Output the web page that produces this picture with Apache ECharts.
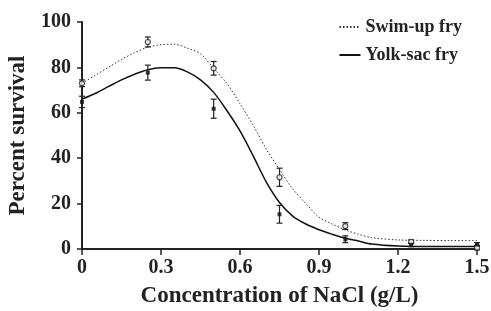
<!DOCTYPE html>
<html>
<head>
<meta charset="utf-8">
<script src="https://cdn.jsdelivr.net/npm/echarts@6/dist/echarts.min.js"></script>
<style>html,body{margin:0;padding:0;background:#fff;}#c{width:491px;height:311px;}</style>
</head>
<body>
<div id="c"></div>
<script>
// Measured points (NaCl g/L, % survival, error)
var concentrations = [0, 0.25, 0.5, 0.75, 1.0, 1.25, 1.5];
var swimUpMeans = [73, 91.2, 79.6, 31.6, 10.1, 3.2, 0.6];
var swimUpErr = [1.5, 2.2, 3, 4, 1.5, 0.8, 1];
var yolkSacMeans = [64.8, 77.7, 61.8, 15.3, 4.3, 1.8, 2.0];
var yolkSacErr = [2.5, 3.3, 4.2, 3.9, 1.5, 0.8, 0.8];

// Fitted curves
var curveX = [0, 0.05, 0.1, 0.15, 0.2, 0.25, 0.3, 0.35, 0.4, 0.45, 0.5, 0.55, 0.6, 0.65, 0.7, 0.75, 0.8, 0.85, 0.9, 0.95, 1.0, 1.05, 1.1, 1.2, 1.3, 1.4, 1.5];
var swimUpCurve = [73, 76.5, 80, 83.5, 86.5, 88.9, 90, 90.2, 88.5, 86, 79.5, 73, 64, 54.5, 44, 35, 26.5, 20, 14, 11, 8.4, 6.5, 5, 4, 3.8, 3.7, 3.7];
var yolkSacCurve = [66, 68.5, 71.5, 74.5, 77, 79, 79.8, 79.8, 78, 74.5, 69, 61, 52, 41, 29.5, 20.5, 14.5, 11, 8.5, 6.5, 4.7, 3.5, 2.2, 1.3, 1.1, 1.1, 1.1];

var xTickLabels = ['0', '0.3', '0.6', '0.9', '1.2', '1.5'];
var yTicks = [0, 20, 40, 60, 80, 100];

function pairs(xs, ys) { return xs.map(function (x, i) { return [x, ys[i]]; }); }
function errData(xs, ys, es) { return xs.map(function (x, i) { return [x, ys[i] - es[i], ys[i] + es[i]]; }); }

function errorBarRender(params, api) {
  var x = api.value(0);
  var lo = api.coord([x, api.value(1)]);
  var hi = api.coord([x, api.value(2)]);
  var w = 3;
  var st = { stroke: '#222', lineWidth: 1.2 };
  return {
    type: 'group',
    children: [
      { type: 'line', shape: { x1: lo[0], y1: lo[1], x2: hi[0], y2: hi[1] }, style: st },
      { type: 'line', shape: { x1: lo[0] - w, y1: lo[1], x2: lo[0] + w, y2: lo[1] }, style: st },
      { type: 'line', shape: { x1: hi[0] - w, y1: hi[1], x2: hi[0] + w, y2: hi[1] }, style: st }
    ]
  };
}

var font = '"Liberation Serif", "Times New Roman", serif';
var chart = echarts.init(document.getElementById('c'), null, { renderer: 'canvas' });
chart.setOption({
  animation: false,
  backgroundColor: '#fff',
  grid: { left: 82, right: 14, top: 22, bottom: 62, outerBoundsMode: 'none', containLabel: false },
  legend: {
    orient: 'vertical',
    right: 24,
    top: 13,
    itemWidth: 21,
    itemHeight: 10,
    itemGap: 10,
    itemStyle: { opacity: 0 },
    data: ['Swim-up fry', 'Yolk-sac fry'],
    textStyle: { fontFamily: font, fontWeight: 'bold', fontSize: 18, color: '#222' }
  },
  xAxis: {
    type: 'value', min: 0, max: 1.5, interval: 0.3,
    name: 'Concentration of NaCl (g/L)', nameLocation: 'middle', nameGap: 36,
    nameTextStyle: { fontFamily: font, fontWeight: 'bold', fontSize: 23, color: '#222' },
    axisLine: { lineStyle: { color: '#222', width: 2 } },
    axisTick: { length: 6, lineStyle: { color: '#222', width: 1.5 } },
    splitLine: { show: false },
    axisLabel: {
      fontFamily: font, fontWeight: 'bold', fontSize: 20, color: '#222', margin: 9,
      formatter: function (v) { return xTickLabels[Math.round(v / 0.3)]; }
    }
  },
  yAxis: {
    type: 'value', min: 0, max: 100, interval: 20,
    name: 'Percent survival', nameLocation: 'middle', nameGap: 52,
    nameTextStyle: { fontFamily: font, fontWeight: 'bold', fontSize: 23, color: '#222' },
    axisLine: { show: true, lineStyle: { color: '#222', width: 2 } },
    axisTick: { show: true, length: 5, lineStyle: { color: '#222', width: 1.5 } },
    splitLine: { show: false },
    axisLabel: {
      fontFamily: font, fontWeight: 'bold', fontSize: 20, color: '#222', margin: 11,
      formatter: function (v) { return yTicks.indexOf(v) >= 0 ? String(v) : ''; }
    }
  },
  series: [
    {
      name: 'Swim-up fry', type: 'line', smooth: 0.3, symbol: 'none', z: 2,
      data: pairs(curveX, swimUpCurve),
      lineStyle: { color: '#333', width: 1, type: [1.5, 2] },
      itemStyle: { color: '#333' }
    },
    {
      name: 'Yolk-sac fry', type: 'line', smooth: 0.3, symbol: 'none', z: 2,
      data: pairs(curveX, yolkSacCurve),
      lineStyle: { color: '#111', width: 1.5, type: 'solid' },
      itemStyle: { color: '#111' }
    },
    {
      type: 'custom', renderItem: errorBarRender, z: 3, clip: false,
      encode: { x: 0, y: [1, 2] },
      data: errData(concentrations, swimUpMeans, swimUpErr)
    },
    {
      type: 'custom', renderItem: errorBarRender, z: 3, clip: false,
      encode: { x: 0, y: [1, 2] },
      data: errData(concentrations, yolkSacMeans, yolkSacErr)
    },
    {
      type: 'scatter', symbol: 'circle', symbolSize: 5, z: 4, clip: false,
      data: pairs(concentrations, swimUpMeans),
      itemStyle: { color: '#fff', borderColor: '#222', borderWidth: 1.2 }
    },
    {
      type: 'scatter', symbol: 'rect', symbolSize: 4, z: 4, clip: false,
      data: pairs(concentrations, yolkSacMeans),
      itemStyle: { color: '#111' }
    }
  ]
});
</script>
</body>
</html>
